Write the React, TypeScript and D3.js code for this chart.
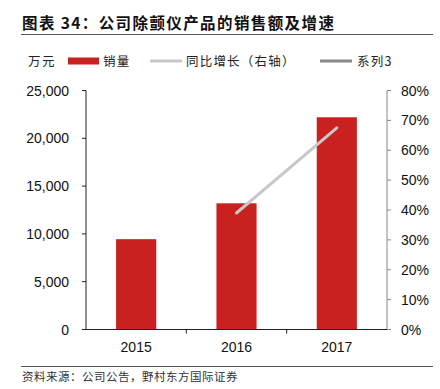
import React from "react";
import * as d3 from "d3";

const categories = ["2015", "2016", "2017"];
const sales = [9450, 13200, 22200];
const growth: (number | null)[] = [null, 0.39, 0.675];
const leftTicks = [0, 5000, 10000, 15000, 20000, 25000];
const rightTicks = [0, 0.1, 0.2, 0.3, 0.4, 0.5, 0.6, 0.7, 0.8];

const W = 440;
const H = 389;
const ml = 86;
const mr = 387;
const mt = 90.5;
const mb = 329.5;

const FONT = "'Liberation Sans', Arial, sans-serif";
const CJK = "'Noto Sans CJK SC', sans-serif";

export default function App() {
  const xb = d3.scaleBand<string>().domain(categories).range([ml, mr]);
  const yL = d3.scaleLinear().domain([0, 25000]).range([mb, mt]);
  const yR = d3.scaleLinear().domain([0, 0.8]).range([mb, mt]);
  const fmtL = d3.format(",");
  const fmtR = d3.format(".0%");
  const pts = categories
    .map((c, i) => ({ c, v: growth[i] }))
    .filter((d) => d.v != null) as { c: string; v: number }[];
  const line = d3
    .line<{ c: string; v: number }>()
    .x((d) => (xb(d.c) as number) + xb.bandwidth() / 2)
    .y((d) => yR(d.v));

  return (
    <svg width={W} height={H} style={{ position: "absolute", left: 0, top: 0, background: "#fff" }}>
      <text x={22} y={29} fontFamily={CJK} fontSize={15.5} fontWeight="bold" fill="#111" letterSpacing={1.4}>
        图表 34：公司除颤仪产品的销售额及增速
      </text>
      <line x1={21} x2={433} y1={34.5} y2={34.5} stroke="#555" strokeWidth={1} />

      {/* legend */}
      <text x={28} y={66} fontFamily={CJK} fontSize={12.5} fill="#222" letterSpacing={1.5}>万元</text>
      <rect x={68} y={57.5} width={31} height={7} fill="#C8211F" />
      <text x={103} y={65.5} fontFamily={CJK} fontSize={12.5} fill="#222" letterSpacing={1.2}>销量</text>
      <line x1={150} x2={182} y1={61} y2={61} stroke="#c8c8c8" strokeWidth={3} />
      <text x={186} y={65.5} fontFamily={CJK} fontSize={12.5} fill="#222" letterSpacing={1.2}>同比增长（右轴）</text>
      <line x1={320} x2={352} y1={61} y2={61} stroke="#8a8a8a" strokeWidth={3} />
      <text x={357} y={65.5} fontFamily={CJK} fontSize={12.5} fill="#222" letterSpacing={1.2}>系列3</text>

      {/* bars */}
      {categories.map((c, i) => (
        <rect
          key={c}
          x={(xb(c) as number) + xb.bandwidth() * 0.3}
          width={xb.bandwidth() * 0.4}
          y={yL(sales[i])}
          height={mb - yL(sales[i])}
          fill="#C8211F"
        />
      ))}

      {/* growth line */}
      <path d={line(pts) || ""} fill="none" stroke="#c8c8c8" strokeWidth={3} strokeLinecap="round" />

      {/* left axis */}
      <line x1={ml} x2={ml} y1={mt} y2={mb} stroke="#222" />
      {leftTicks.map((t) => (
        <g key={t}>
          <line x1={ml - 4} x2={ml} y1={yL(t)} y2={yL(t)} stroke="#222" />
          <text x={ml - 17} y={yL(t) + 5} textAnchor="end" fontFamily={FONT} fontSize={14} fill="#111">
            {fmtL(t)}
          </text>
        </g>
      ))}

      {/* right axis */}
      <line x1={mr} x2={mr} y1={mt} y2={mb} stroke="#888" />
      {rightTicks.map((t) => (
        <g key={t}>
          <line x1={mr} x2={mr + 4} y1={yR(t)} y2={yR(t)} stroke="#888" />
          <text x={mr + 14} y={yR(t) + 5} textAnchor="start" fontFamily={FONT} fontSize={14} fill="#111">
            {fmtR(t)}
          </text>
        </g>
      ))}

      {/* x axis */}
      <line x1={ml} x2={mr} y1={mb} y2={mb} stroke="#222" />
      {[1, 2].map((i) => (
        <line key={i} x1={xb(categories[i])} x2={xb(categories[i])} y1={mb} y2={mb + 4} stroke="#222" />
      ))}
      {categories.map((c) => (
        <text
          key={c}
          x={(xb(c) as number) + xb.bandwidth() / 2}
          y={352}
          textAnchor="middle"
          fontFamily={FONT}
          fontSize={14}
          fill="#111"
        >
          {c}
        </text>
      ))}

      <line x1={21} x2={433} y1={366.5} y2={366.5} stroke="#555" strokeWidth={1} />
      <text x={22} y={381} fontFamily={CJK} fontSize={11.5} fill="#333" letterSpacing={0.5}>
        资料来源：公司公告，野村东方国际证券
      </text>
    </svg>
  );
}
